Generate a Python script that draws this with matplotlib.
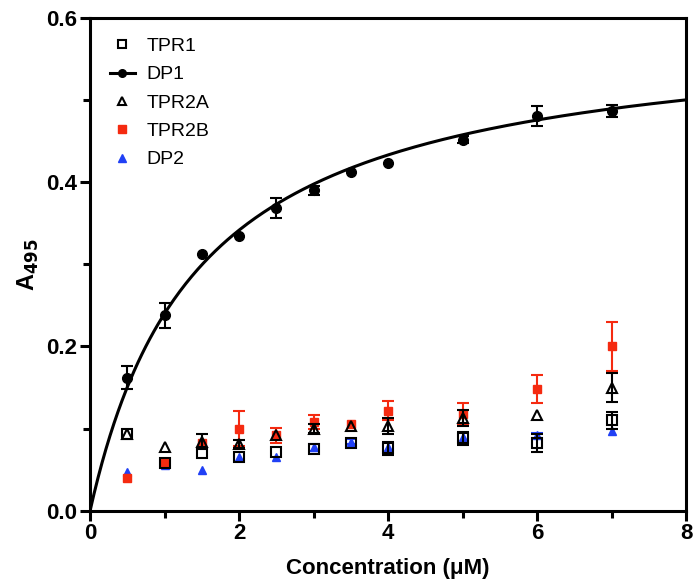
import numpy as np
import matplotlib
matplotlib.use('Agg')
import matplotlib.pyplot as plt
from matplotlib.ticker import MultipleLocator

plt.rcParams['font.family'] = ['Liberation Sans Narrow', 'Liberation Sans', 'DejaVu Sans']

conc = [0.5, 1, 1.5, 2, 2.5, 3, 3.5, 4, 5, 6, 7]

# None = error bar hidden behind the marker
dp1 = [0.162, 0.238, 0.313, 0.334, 0.369, 0.390, 0.413, 0.423, 0.452, 0.481, 0.487]
dp1_err = [0.014, 0.015, None, None, 0.012, 0.006, None, None, 0.004, 0.012, 0.007]

tpr1 = [0.093, 0.058, 0.070, 0.065, 0.071, 0.075, 0.082, 0.076, 0.088, 0.082, 0.110]
tpr1_err = [None, None, None, None, None, None, None, 0.008, 0.008, 0.011, 0.010]

tpr2a = [0.093, 0.077, 0.084, 0.081, 0.092, 0.100, 0.103, 0.103, 0.113, 0.116, 0.150]
tpr2a_err = [None, None, 0.009, 0.005, None, 0.005, None, 0.010, 0.010, None, 0.018]

tpr2b = [0.040, 0.058, 0.083, 0.100, 0.092, 0.108, 0.106, 0.122, 0.118, 0.148, 0.200]
tpr2b_err = [None, None, None, 0.021, 0.009, 0.009, None, 0.012, 0.013, 0.017, 0.030]

dp2 = [0.047, 0.056, 0.049, 0.065, 0.065, 0.077, 0.084, 0.078, 0.090, 0.092, 0.097]
dp2_err = [None, 0.003, None, None, None, 0.004, 0.003, None, None, 0.003, None]

# one-site binding fit for DP1
bmax = 0.592
kd = 1.465


def err(e):
    return np.array([np.nan if v is None else v for v in e], dtype=float)


fig = plt.figure(figsize=(6.93, 5.83), dpi=100)
ax = fig.add_axes([0.130, 0.124, 0.860, 0.845])

blue = '#2040f5'
red = '#f52a10'
eb = dict(capsize=4, elinewidth=1.5, capthick=1.5)

ax.errorbar(conc, dp2, yerr=err(dp2_err), fmt='^', color=blue, ms=6, zorder=2, **eb)
ax.errorbar(conc, tpr2b, yerr=err(tpr2b_err), fmt='s', color=red, ms=6, zorder=3, **eb)
ax.errorbar(conc, tpr2a, yerr=err(tpr2a_err), fmt='^', mfc='none', mec='black', mew=1.5,
            color='black', ms=7, zorder=4, **eb)
ax.errorbar(conc, tpr1, yerr=err(tpr1_err), fmt='s', mfc='none', mec='black', mew=1.5,
            color='black', ms=7.5, zorder=4, **eb)
ax.errorbar(conc, dp1, yerr=err(dp1_err), fmt='o', color='black', ms=7, zorder=5, **eb)

xs = np.linspace(0, 8, 300)
ax.plot(xs, bmax * xs / (kd + xs), color='black', lw=2.2, zorder=5)

# legend proxies
h_tpr1, = ax.plot([], [], 's', mfc='none', mec='black', mew=1.5, ms=6)
h_dp1, = ax.plot([], [], '-o', color='black', lw=2.2, ms=5.5)
h_tpr2a, = ax.plot([], [], '^', mfc='none', mec='black', mew=1.5, ms=5.5)
h_tpr2b, = ax.plot([], [], 's', color=red, ms=5.5)
h_dp2, = ax.plot([], [], '^', color=blue, ms=5.5)
ax.legend([h_tpr1, h_dp1, h_tpr2a, h_tpr2b, h_dp2],
          ['TPR1', 'DP1', 'TPR2A', 'TPR2B', 'DP2'],
          loc='upper left', frameon=False, handlelength=1.3, handletextpad=0.6,
          labelspacing=0.55, borderaxespad=0.6,
          prop={'family': ['Liberation Sans', 'DejaVu Sans'], 'size': 14})

ax.set_xlim(0, 8)
ax.set_ylim(0, 0.6)
ax.xaxis.set_major_locator(MultipleLocator(2))
ax.xaxis.set_minor_locator(MultipleLocator(1))
ax.yaxis.set_major_locator(MultipleLocator(0.2))
ax.yaxis.set_minor_locator(MultipleLocator(0.1))
ax.set_yticklabels([f'{v:.1f}' for v in ax.get_yticks()])

for sp in ax.spines.values():
    sp.set_linewidth(2.2)
ax.tick_params(which='both', direction='out', width=2.2, top=False, right=False)
ax.tick_params(which='major', length=7, labelsize=16, pad=2)
ax.tick_params(which='minor', length=5)
for lab in ax.get_xticklabels() + ax.get_yticklabels():
    lab.set_fontweight('bold')

ax.set_xlabel('Concentration (μM)', fontsize=16, fontweight='bold', labelpad=10)
ax.set_ylabel('A$_{\\mathbf{495}}$', fontsize=17, fontweight='bold', labelpad=4)

fig.savefig('out.png', dpi=100)
